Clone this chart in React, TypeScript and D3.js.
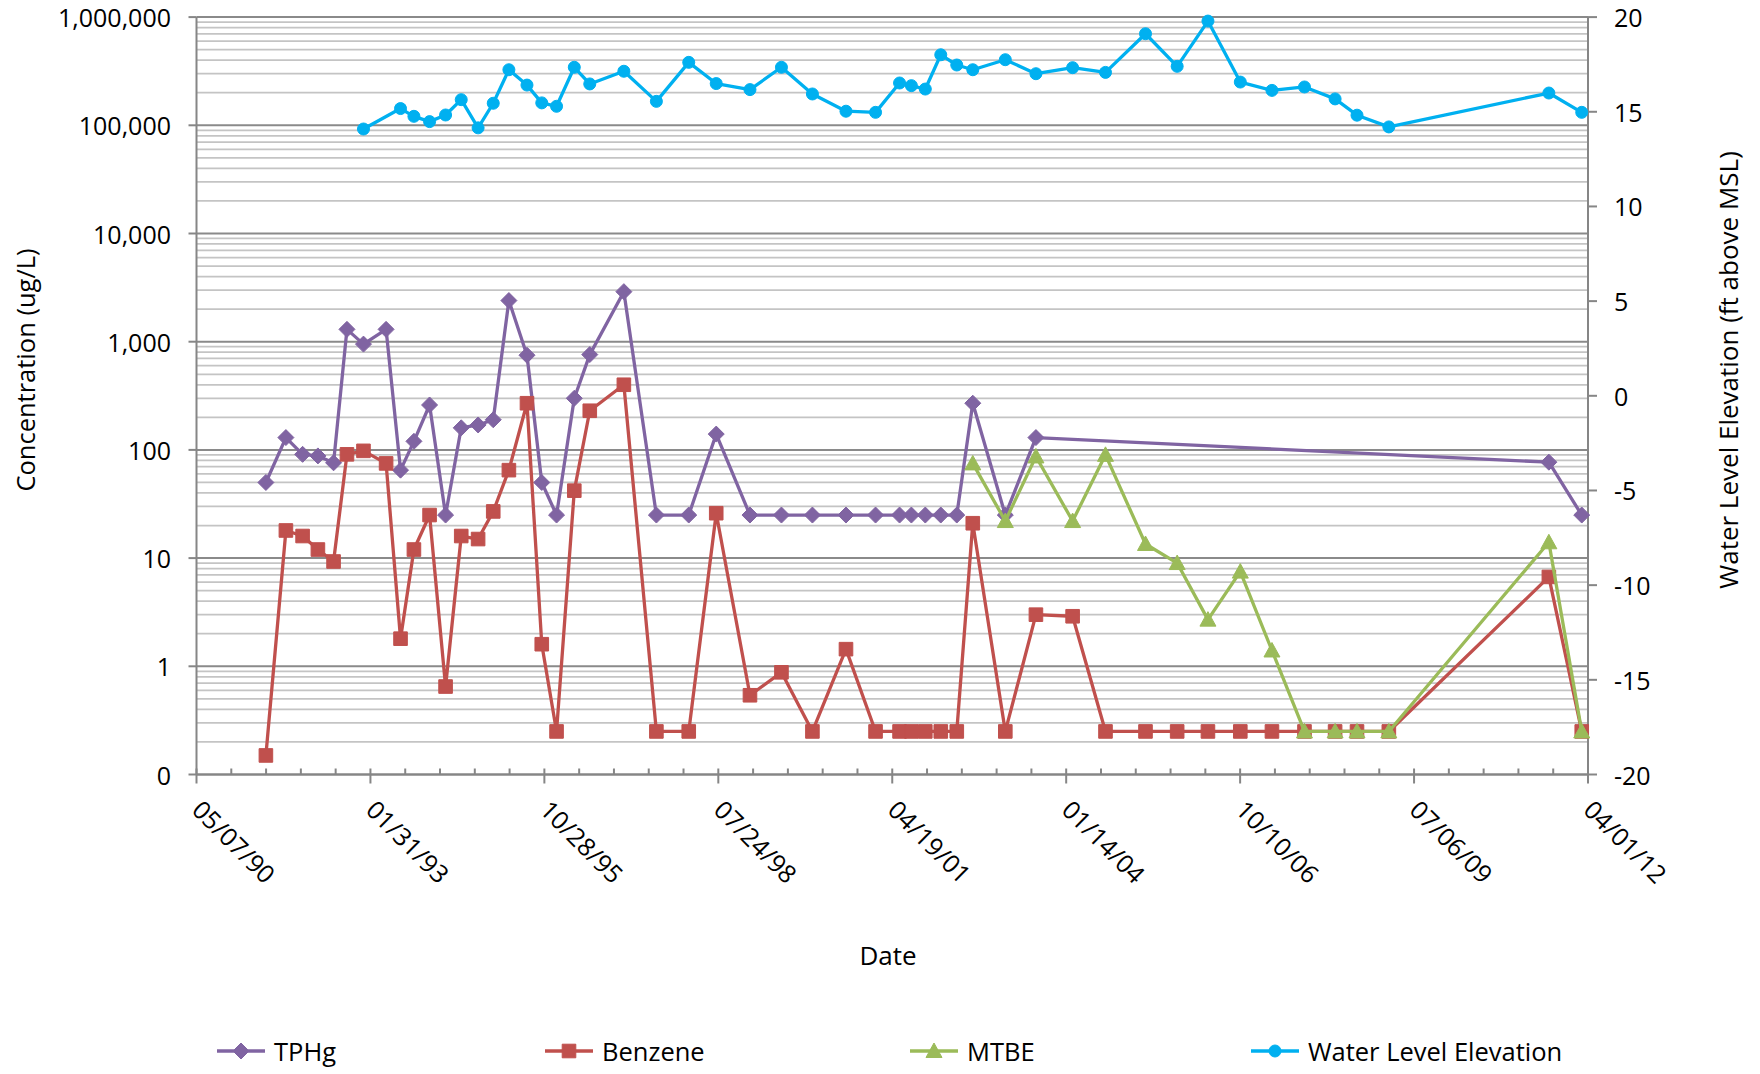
import React from "react";
import * as d3 from "d3";

// ---------- data ----------
const sampleDates = [
  "1991-06-10", "1991-10-03", "1992-01-07", "1992-04-04", "1992-07-03", "1992-09-18",
  "1992-12-22", "1993-05-01", "1993-07-23", "1993-10-08", "1994-01-06", "1994-04-08",
  "1994-07-07", "1994-10-12", "1995-01-07", "1995-04-07", "1995-07-20", "1995-10-13",
  "1996-01-06", "1996-04-17", "1996-07-15", "1997-01-27", "1997-08-02", "1998-02-04",
  "1998-07-12", "1999-01-22", "1999-07-22", "2000-01-16", "2000-07-27", "2001-01-13",
  "2001-05-31", "2001-08-07", "2001-10-26", "2002-01-23", "2002-04-25", "2002-07-26",
  "2003-01-29", "2003-07-24", "2004-02-20", "2004-08-27", "2005-04-14", "2005-10-13",
  "2006-04-08", "2006-10-11", "2007-04-11", "2007-10-15", "2008-04-08", "2008-08-12",
  "2009-02-11", "2011-08-20", "2012-02-25",
];

const tphg: (number | null)[] = [
  50, 130, 91, 88, 76, 1300,
  950, 1300, 65, 120, 260, 25,
  160, 170, 190, 2400, 750, 50,
  25, 300, 760, 2900, 25, 25,
  140, 25, 25, 25, 25, 25,
  25, 25, 25, 25, 25, 270,
  25, 130, null, null, null, null,
  null, null, null, null, null, null,
  null, 77, 25,
];

const benzene: (number | null)[] = [
  0.15, 18, 16, 12, 9.3, 91,
  98, 75, 1.8, 12, 25, 0.65,
  16, 15, 27, 65, 270, 1.6,
  0.25, 42, 230, 400, 0.25, 0.25,
  26, 0.54, 0.88, 0.25, 1.44, 0.25,
  0.25, 0.25, 0.25, 0.25, 0.25, 21,
  0.25, 3.0, 2.9, 0.25, 0.25, 0.25,
  0.25, 0.25, 0.25, 0.25, 0.25, 0.25,
  0.25, 6.7, 0.25,
];

const mtbe: (number | null)[] = [
  null, null, null, null, null, null,
  null, null, null, null, null, null,
  null, null, null, null, null, null,
  null, null, null, null, null, null,
  null, null, null, null, null, null,
  null, null, null, null, null, 75,
  22, 87, 22, 90, 13.5, 9,
  2.7, 7.5, 1.4, 0.25, 0.25, 0.25,
  0.25, 14, 0.25,
];

const waterLevel: (number | null)[] = [
  null, null, null, null, null, null,
  14.09, null, 15.17, 14.76, 14.48, 14.83,
  15.64, 14.15, 15.45, 17.22, 16.41, 15.47,
  15.29, 17.35, 16.47, 17.14, 15.55, 17.61,
  16.49, 16.17, 17.35, 15.94, 15.03, 14.97,
  16.52, 16.38, 16.2, 18.01, 17.47, 17.22,
  17.75, 17.01, 17.33, 17.08, 19.12, 17.4,
  19.79, 16.57, 16.13, 16.31, 15.68, 14.82,
  14.2, 15.99, 14.97,
];

const xTickLabels = ["05/07/90", "01/31/93", "10/28/95", "07/24/98", "04/19/01", "01/14/04", "10/10/06", "07/06/09", "04/01/12"];
const leftTickValues = [0.1, 1, 10, 100, 1000, 10000, 100000, 1000000];
const leftTickLabels = ["0", "1", "10", "100", "1,000", "10,000", "100,000", "1,000,000"];
const rightTickValues = [-20, -15, -10, -5, 0, 5, 10, 15, 20];

const seriesNames = ["TPHg", "Benzene", "MTBE", "Water Level Elevation"];
const seriesColors = ["#8064A2", "#C0504D", "#9BBB59", "#00B0F0"];
const seriesMarkers = ["diamond", "square", "triangle", "circle"];

// ---------- layout ----------
const W = 1760;
const H = 1074;
const M = { left: 196.5, right: 1588, top: 17.1, bottom: 774.5 };
const FONT = "'Open Sans', 'Liberation Sans', Arial, sans-serif";
const legendX = [217, 545, 910, 1251];
const legendY = 1051;

const parseISO = d3.utcParse("%Y-%m-%d");
const parseTick = d3.utcParse("%m/%d/%y");

function markerPath(shape: string): string {
  switch (shape) {
    case "diamond":
      return "M0,-8L8,0L0,8L-8,0Z";
    case "square":
      return "M-6.8,-6.8H6.8V6.8H-6.8Z";
    case "triangle":
      return "M0,-8L8,6.5L-8,6.5Z";
    default:
      return "M-6,0A6,6 0 1,0 6,0A6,6 0 1,0 -6,0Z";
  }
}

export default function App() {
  const tickDates = xTickLabels.map((t) => parseTick(t) as Date);
  const x = d3
    .scaleUtc()
    .domain([tickDates[0], tickDates[tickDates.length - 1]])
    .range([M.left, M.right]);
  const yLeft = d3.scaleLog().domain([0.1, 1e6]).range([M.bottom, M.top]);
  const yRight = d3.scaleLinear().domain([-20, 20]).range([M.bottom, M.top]);

  const dates = sampleDates.map((d) => parseISO(d) as Date);

  // minor x ticks every 200 days
  const minorTicks: Date[] = [];
  for (let k = 1; ; k++) {
    const d = d3.utcDay.offset(tickDates[0], k * 200);
    if (d > tickDates[tickDates.length - 1]) break;
    if (k % 5 !== 0) minorTicks.push(d);
  }

  const majorGrid = leftTickValues;
  const minorGrid: number[] = [];
  for (let e = -1; e < 6; e++) {
    for (let m = 2; m <= 9; m++) minorGrid.push(m * Math.pow(10, e));
  }

  const allSeries = [tphg, benzene, mtbe, waterLevel];

  const seriesEls = allSeries.map((vals, si) => {
    const scale = si === 3 ? yRight : yLeft;
    const pts: [number, number][] = [];
    vals.forEach((v, i) => {
      if (v !== null && v !== undefined) pts.push([x(dates[i]), scale(v)]);
    });
    const line = d3.line<[number, number]>().x((p) => p[0]).y((p) => p[1]);
    const color = seriesColors[si];
    return (
      <g key={si}>
        <path d={line(pts) || ""} fill="none" stroke={color} strokeWidth={3.3} strokeLinejoin="round" />
        {pts.map((p, i) => (
          <path key={i} d={markerPath(seriesMarkers[si])} transform={`translate(${p[0]},${p[1]})`} fill={color} stroke={color} strokeWidth={1} />
        ))}
      </g>
    );
  });

  return (
    <svg
      width={W}
      height={H}
      viewBox={`0 0 ${W} ${H}`}
      style={{ position: "absolute", left: 0, top: 0, background: "#fff" }}
      fontFamily={FONT}
    >
      <rect x={0} y={0} width={W} height={H} fill="#fff" />

      {minorGrid.map((v, i) => (
        <line key={"mg" + i} x1={M.left} x2={M.right} y1={yLeft(v)} y2={yLeft(v)} stroke="#c4c4c4" strokeWidth={1.75} />
      ))}
      {majorGrid.map((v, i) => (
        <line key={"Mg" + i} x1={M.left} x2={M.right} y1={yLeft(v)} y2={yLeft(v)} stroke="#8a8a8a" strokeWidth={2} />
      ))}

      {/* left axis */}
      <line x1={M.left} x2={M.left} y1={M.top} y2={M.bottom} stroke="#868686" strokeWidth={2} />
      {leftTickValues.map((v, i) => (
        <g key={"lt" + i}>
          <line x1={M.left - 8} x2={M.left} y1={yLeft(v)} y2={yLeft(v)} stroke="#868686" strokeWidth={2} />
          <text x={171} y={yLeft(v)} textAnchor="end" dominantBaseline="central" fontSize={25} fill="#000">
            {leftTickLabels[i]}
          </text>
        </g>
      ))}

      {/* right axis */}
      <line x1={M.right} x2={M.right} y1={M.top} y2={M.bottom} stroke="#868686" strokeWidth={2} />
      {rightTickValues.map((v, i) => (
        <g key={"rt" + i}>
          <line x1={M.right} x2={M.right + 9} y1={yRight(v)} y2={yRight(v)} stroke="#868686" strokeWidth={2} />
          <text x={1614} y={yRight(v)} textAnchor="start" dominantBaseline="central" fontSize={25} fill="#000">
            {v}
          </text>
        </g>
      ))}

      {/* x axis */}
      <line x1={M.left} x2={M.right} y1={M.bottom} y2={M.bottom} stroke="#868686" strokeWidth={2} />
      {minorTicks.map((d, i) => (
        <line key={"mt" + i} x1={x(d)} x2={x(d)} y1={M.bottom - 6} y2={M.bottom} stroke="#868686" strokeWidth={2} />
      ))}
      {tickDates.map((d, i) => (
        <g key={"xt" + i}>
          <line x1={x(d)} x2={x(d)} y1={M.bottom - 6} y2={M.bottom + 9} stroke="#868686" strokeWidth={2} />
          <text
            transform={`translate(${x(d) - 6},${M.bottom + 37}) rotate(45)`}
            textAnchor="start"
            fontSize={25}
            fill="#000"
          >
            {xTickLabels[i]}
          </text>
        </g>
      ))}

      {seriesEls}

      {/* axis titles */}
      <text transform={`translate(25,370) rotate(-90)`} textAnchor="middle" dominantBaseline="central" fontSize={25.5} fill="#000">
        Concentration (ug/L)
      </text>
      <text transform={`translate(1728,370) rotate(-90)`} textAnchor="middle" dominantBaseline="central" fontSize={26} fill="#000">
        Water Level Elevation (ft above MSL)
      </text>
      <text x={888} y={955} textAnchor="middle" dominantBaseline="central" fontSize={26} fill="#000">
        Date
      </text>

      {/* legend */}
      {seriesNames.map((name, i) => (
        <g key={"lg" + i} transform={`translate(${legendX[i]},${legendY})`}>
          <line x1={0} x2={48} y1={0} y2={0} stroke={seriesColors[i]} strokeWidth={3.3} />
          <path d={markerPath(seriesMarkers[i])} transform="translate(24,0)" fill={seriesColors[i]} stroke={seriesColors[i]} strokeWidth={1} />
          <text x={57} y={0} dominantBaseline="central" fontSize={25.5} fill="#000">
            {name}
          </text>
        </g>
      ))}
    </svg>
  );
}
